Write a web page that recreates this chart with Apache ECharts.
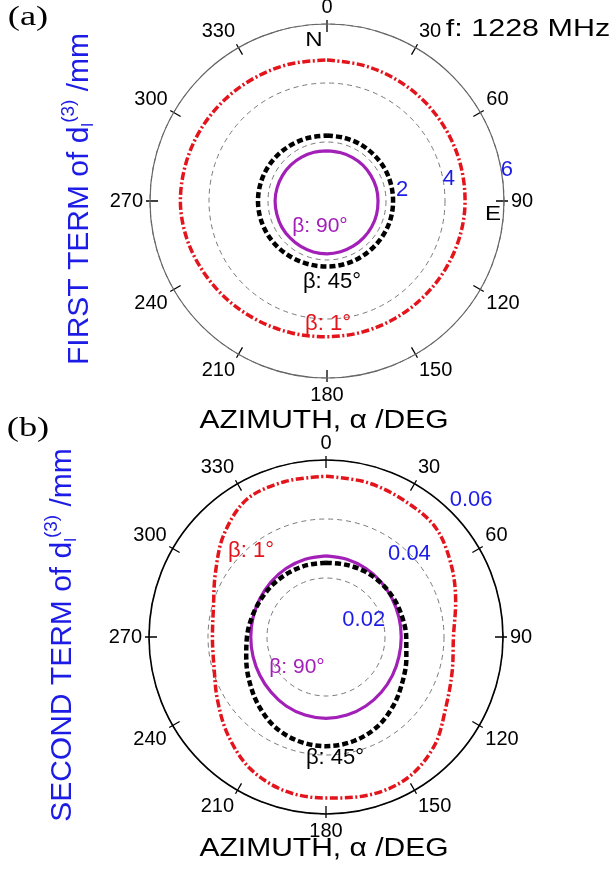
<!DOCTYPE html>
<html>
<head>
<meta charset="utf-8">
<script src="https://cdn.jsdelivr.net/npm/echarts@6/dist/echarts.min.js"></script>
<style>
  html, body { margin: 0; padding: 0; background: #fff; }
  #main { width: 611px; height: 869px; }
</style>
</head>
<body>
<div id="main"></div>
<script>
// azimuth grid (deg), shared by every curve
const azimuth = [0, 15, 30, 45, 60, 75, 90, 105, 120, 135, 150, 165, 180,
  195, 210, 225, 240, 255, 270, 285, 300, 315, 330, 345, 360];

// (a) first term of d_l^(3), mm
const firstBeta1 = [4.78, 4.76, 4.74, 4.72, 4.7, 4.69, 4.68, 4.66, 4.63, 4.61, 4.6, 4.6, 4.6,
  4.63, 4.68, 4.75, 4.83, 4.92, 4.97, 4.95, 4.92, 4.88, 4.84, 4.81, 4.78];
const firstBeta45 = [2.22, 2.22, 2.23, 2.23, 2.24, 2.24, 2.24, 2.24, 2.23, 2.22, 2.22, 2.22, 2.22,
  2.23, 2.25, 2.28, 2.31, 2.33, 2.34, 2.33, 2.31, 2.28, 2.25, 2.23, 2.22];
const firstBeta90 = [1.7, 1.7, 1.71, 1.72, 1.72, 1.73, 1.73, 1.74, 1.75, 1.76, 1.77, 1.78, 1.79,
  1.79, 1.78, 1.77, 1.77, 1.76, 1.76, 1.75, 1.74, 1.73, 1.72, 1.71, 1.7];

// (b) second term of d_l^(3), mm
const secondBeta1 = [0.0545, 0.0542, 0.0533, 0.0525, 0.049, 0.0455, 0.0432, 0.0443, 0.047, 0.052, 0.0552, 0.0555, 0.0546,
  0.054, 0.0515, 0.047, 0.0425, 0.0393, 0.0385, 0.0395, 0.0433, 0.049, 0.0538, 0.0545, 0.0545];
const secondBeta45 = [0.0252, 0.0254, 0.0258, 0.0261, 0.0264, 0.0267, 0.0272, 0.0282, 0.030, 0.0325, 0.035, 0.0365, 0.037,
  0.0365, 0.035, 0.0325, 0.030, 0.028, 0.0268, 0.026, 0.0255, 0.0253, 0.0252, 0.0252, 0.0252];
const secondBeta90 = [0.0275, 0.0273, 0.0269, 0.0264, 0.0259, 0.0256, 0.0255, 0.0256, 0.026, 0.0265, 0.027, 0.0274, 0.0276,
  0.0274, 0.027, 0.0264, 0.0259, 0.0256, 0.0255, 0.0256, 0.0259, 0.0264, 0.0269, 0.0273, 0.0275];

// radial tick labels
const firstTicks = ['2', '4', '6'];
const secondTicks = ['0.02', '0.04', '0.06'];

const FONT = 'Liberation Sans, Arial, sans-serif';
const SERIF = 'Liberation Serif, Times New Roman, serif';
const RED = '#e3141b', PURPLE = '#a21fb8', BLUE = '#1c1ce6';
// control length that keeps a 15-degree polyline round
const SMOOTH = 0.34;

const chart = echarts.init(document.getElementById('main'), null, { renderer: 'canvas' });

function pairs(vals) {
  return vals.map(function (v, i) { return [v, azimuth[i]]; });
}

// three polars per plot: main (curves, inner ticks, labels), outer ticks, radial labels
function polarSet(center) {
  return [
    { center: center, radius: 177 },
    { center: center, radius: 177 },
    { center: center, radius: 177 }
  ];
}

function angleAxes(base, lineColor, lineWidth, labelAngle) {
  return [
    {
      polarIndex: base, type: 'value', min: 0, max: 360, interval: 30,
      startAngle: 90, clockwise: true,
      axisLine: { lineStyle: { color: lineColor, width: lineWidth } },
      axisTick: { inside: true, length: 8, lineStyle: { color: '#000', width: 1.3 } },
      axisLabel: {
        margin: 7, color: '#000', fontSize: 20, fontFamily: FONT,
        formatter: function (v) { return v === 360 ? '' : String(v); }
      },
      splitLine: { show: false }
    },
    {
      polarIndex: base + 1, type: 'value', min: 0, max: 360, interval: 30,
      startAngle: 90, clockwise: true,
      axisLine: { show: false },
      axisTick: { inside: false, length: 4, lineStyle: { color: '#000', width: 1.3 } },
      axisLabel: { show: false },
      splitLine: { show: false }
    },
    {
      polarIndex: base + 2, type: 'value', min: 0, max: 360, show: false,
      startAngle: labelAngle, clockwise: true
    }
  ];
}

function radiusAxes(base, max, interval, ticks, labelStyle) {
  return [
    {
      polarIndex: base, type: 'value', min: 0, max: max, interval: interval,
      axisLine: { show: false }, axisTick: { show: false }, axisLabel: { show: false },
      splitLine: { lineStyle: { color: '#7a7a7a', width: 1, type: [5, 4] } }
    },
    { polarIndex: base + 1, type: 'value', min: 0, max: max, show: false },
    {
      polarIndex: base + 2, type: 'value', min: 0, max: max, interval: interval,
      axisLine: { show: false }, axisTick: { show: false }, splitLine: { show: false },
      axisLabel: Object.assign({
        color: BLUE, fontSize: 22, fontFamily: FONT, margin: 0,
        formatter: function (v, i) {
          const t = ticks[i - 1];
          return t === undefined ? '' : '{t' + i + '|' + t + '}';
        }
      }, labelStyle)
    }
  ];
}

function curves(polarIndex, b1, b45, b90) {
  return [
    {
      type: 'line', coordinateSystem: 'polar', polarIndex: polarIndex, data: pairs(b1),
      smooth: SMOOTH, showSymbol: false, silent: true,
      lineStyle: { color: RED, width: 3.5, type: [8, 2.5, 2, 2.5] }
    },
    {
      type: 'line', coordinateSystem: 'polar', polarIndex: polarIndex, data: pairs(b90),
      smooth: SMOOTH, showSymbol: false, silent: true,
      lineStyle: { color: PURPLE, width: 3.2 }
    },
    {
      type: 'line', coordinateSystem: 'polar', polarIndex: polarIndex, data: pairs(b45),
      smooth: SMOOTH, showSymbol: false, silent: true,
      lineStyle: { color: '#000', width: 4.5, type: [6, 3] }
    }
  ];
}

function note(text, x, y, color, size, sx, family) {
  return {
    type: 'text', x: x, y: y, z: 100, scaleX: sx || 1,
    style: {
      text: text, fill: color, font: size + 'px ' + (family || FONT),
      align: 'center', verticalAlign: 'middle'
    }
  };
}

function yTitle(main, x, y) {
  return {
    type: 'text', x: x, y: y, rotation: Math.PI / 2, z: 100,
    style: {
      text: '{m|' + main + ' of d}{s|l}{p|(3)}{m| /mm}',
      align: 'center', verticalAlign: 'middle',
      rich: {
        m: { fill: BLUE, fontSize: 30, fontFamily: FONT, lineHeight: 44, verticalAlign: 'middle' },
        s: { fill: BLUE, fontSize: 17, fontFamily: FONT, lineHeight: 44, verticalAlign: 'bottom', padding: [0, 0, 5, 0] },
        p: { fill: BLUE, fontSize: 19, fontFamily: FONT, lineHeight: 44, verticalAlign: 'top', padding: [1, 0, 0, 0] }
      }
    }
  };
}

const option = {
  backgroundColor: '#fff',
  animation: false,
  polar: polarSet([327, 201]).concat(polarSet([326, 637])),
  angleAxis: angleAxes(0, '#666', 1.2, 11).concat(angleAxes(3, '#000', 1.6, 45)),
  radiusAxis: radiusAxes(0, 6, 2, firstTicks, {
    align: 'left', verticalAlign: 'middle',
    rich: {
      t1: { padding: [0, 0, 0, 11] },
      t2: { padding: [0, 0, 0, 0] },
      t3: { padding: [6, 0, 0, 0] }
    }
  }).concat(radiusAxes(3, 0.06, 0.02, secondTicks, {
    align: 'center', verticalAlign: 'middle',
    rich: {
      t1: { padding: [50, 8, 0, 0] },
      t2: { padding: [0, 0, 0, 0] },
      t3: { padding: [0, 0, 24, 40] }
    }
  })),
  series: curves(0, firstBeta1, firstBeta45, firstBeta90)
    .concat(curves(3, secondBeta1, secondBeta45, secondBeta90)),
  graphic: [
    note('(a)', 28, 18, '#000', 27, 1.35, SERIF),
    note('(b)', 28, 429, '#000', 27, 1.35, SERIF),
    note('f: 1228 MHz', 528, 29, '#000', 24, 1.27),
    note('N', 314, 40, '#000', 20, 1.2),
    note('E', 493, 214, '#000', 20, 1.2),
    note('β: 90°', 320, 226, PURPLE, 21),
    note('β: 45°', 332, 282, '#000', 22),
    note('β: 1°', 328, 324, RED, 22),
    note('AZIMUTH, α /DEG', 324, 421, '#000', 25, 1.2),
    note('β: 1°', 251, 551, RED, 22),
    note('β: 90°', 297, 667, PURPLE, 21),
    note('β: 45°', 335, 758, '#000', 22),
    note('AZIMUTH, α /DEG', 324, 849, '#000', 25, 1.2),
    yTitle('FIRST TERM', 80, 199),
    yTitle('SECOND TERM', 63, 635)
  ]
};

chart.setOption(option);
</script>
</body>
</html>
